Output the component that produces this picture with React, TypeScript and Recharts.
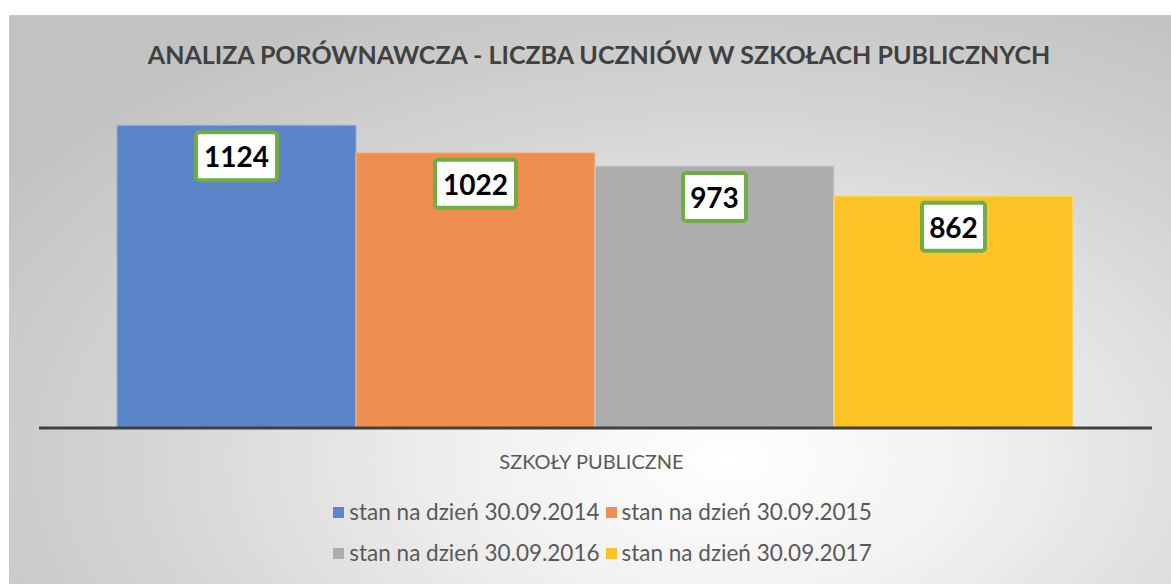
import { BarChart, Bar, XAxis, YAxis, Legend, LabelList } from 'recharts';

const categories = ['SZKOŁY PUBLICZNE'];
const seriesNames = [
  'stan na dzień 30.09.2014',
  'stan na dzień 30.09.2015',
  'stan na dzień 30.09.2016',
  'stan na dzień 30.09.2017',
];
const seriesValues = [1124, 1022, 973, 862];
const seriesColors = ['#5B84C9', '#EE8F50', '#ADADAD', '#FBC326'];
const seriesEdges = ['#8FAEE0', '#F6B98F', '#CFCFCF', '#FDE08A'];

const data = categories.map((name) => {
  const row: Record<string, string | number> = { name };
  seriesNames.forEach((s, i) => {
    row[s] = seriesValues[i];
  });
  return row;
});

const FONT = 'Lato, "Open Sans", sans-serif';

function ValueBox(props: any) {
  const { x, y, width, value } = props;
  const text = String(value);
  const w = text.length > 3 ? 85 : 67;
  const h = 52;
  const cx = x + width / 2;
  return (
    <g>
      <rect
        x={cx - w / 2 + 2}
        y={y + 7}
        width={w - 4}
        height={h - 4}
        rx={3}
        fill="#fff"
        stroke="#70AD47"
        strokeWidth={4}
      />
      <text
        x={cx}
        y={y + 5 + h / 2}
        textAnchor="middle"
        dominantBaseline="central"
        fontFamily={FONT}
        fontWeight={700}
        fontSize={28}
        fill="#000"
      >
        {text}
      </text>
    </g>
  );
}

function CategoryTick(props: any) {
  const { x, y, payload } = props;
  return (
    <text
      x={x - 4}
      y={y + 25}
      textAnchor="middle"
      dominantBaseline="central"
      fontFamily={FONT}
      fontSize={20}
      fill="#595959"
    >
      {payload.value}
    </text>
  );
}

function LegendRows() {
  const rows = [
    [0, 1],
    [2, 3],
  ];
  return (
    <div style={{ height: 115, fontFamily: FONT, fontSize: 22.5, color: '#595959' }}>
      {rows.map((r, ri) => (
        <div
          key={ri}
          style={{
            position: 'absolute',
            top: ri === 0 ? 29 : 70,
            left: 0,
            width: '100%',
            display: 'flex',
            justifyContent: 'center',
            paddingLeft: 10,
          }}
        >
          {r.map((i) => (
            <span key={i} style={{ display: 'inline-flex', alignItems: 'center', marginRight: 6, lineHeight: '26px' }}>
              <span style={{ width: 11, height: 11, background: seriesColors[i], marginRight: 5, display: 'inline-block' }} />
              {seriesNames[i]}
            </span>
          ))}
        </div>
      ))}
    </div>
  );
}

export default function App() {
  return (
    <div style={{ position: 'fixed', left: 0, top: 0, width: 1171, height: 584, background: '#fff', overflow: 'hidden' }}>
      <div
        style={{
          position: 'absolute',
          left: 9,
          top: 15,
          width: 1162,
          height: 569,
          borderTop: '1px solid #c8c8c8',
          borderLeft: '1px solid #c8c8c8',
          background: 'radial-gradient(ellipse 75% 90% at 62% 78%, #ffffff 0%, #f0f0f0 30%, #d6d6d6 65%, #c2c2c2 100%)',
        }}
      >
        <div
          style={{
            position: 'absolute',
            top: 23,
            left: 0,
            width: 1162,
            textAlign: 'center',
            paddingLeft: 8,
            fontFamily: FONT,
            fontWeight: 700,
            fontSize: 25,
            color: '#404040',
          }}
        >
          ANALIZA PORÓWNAWCZA - LICZBA UCZNIÓW W SZKOŁACH PUBLICZNYCH
        </div>
        <BarChart
          width={1162}
          height={569}
          data={data}
          margin={{ top: 88.8, right: 20, left: 29, bottom: 0 }}
          barCategoryGap={78}
          barGap={0}
          style={{ position: 'absolute', left: 0, top: 0 }}
        >
          <YAxis hide domain={[0, 1200]} />
          <XAxis
            dataKey="name"
            height={42}
            axisLine={{ stroke: '#404040', strokeWidth: 3 }}
            tickLine={false}
            tick={<CategoryTick />}
          />
          <Legend verticalAlign="bottom" content={() => <LegendRows />} />
          {seriesNames.map((s, i) => (
            <Bar
              key={s}
              dataKey={s}
              fill={seriesColors[i]}
              stroke={seriesEdges[i]}
              strokeWidth={1}
              isAnimationActive={false}
            >
              <LabelList dataKey={s} content={<ValueBox />} />
            </Bar>
          ))}
        </BarChart>
      </div>
    </div>
  );
}
